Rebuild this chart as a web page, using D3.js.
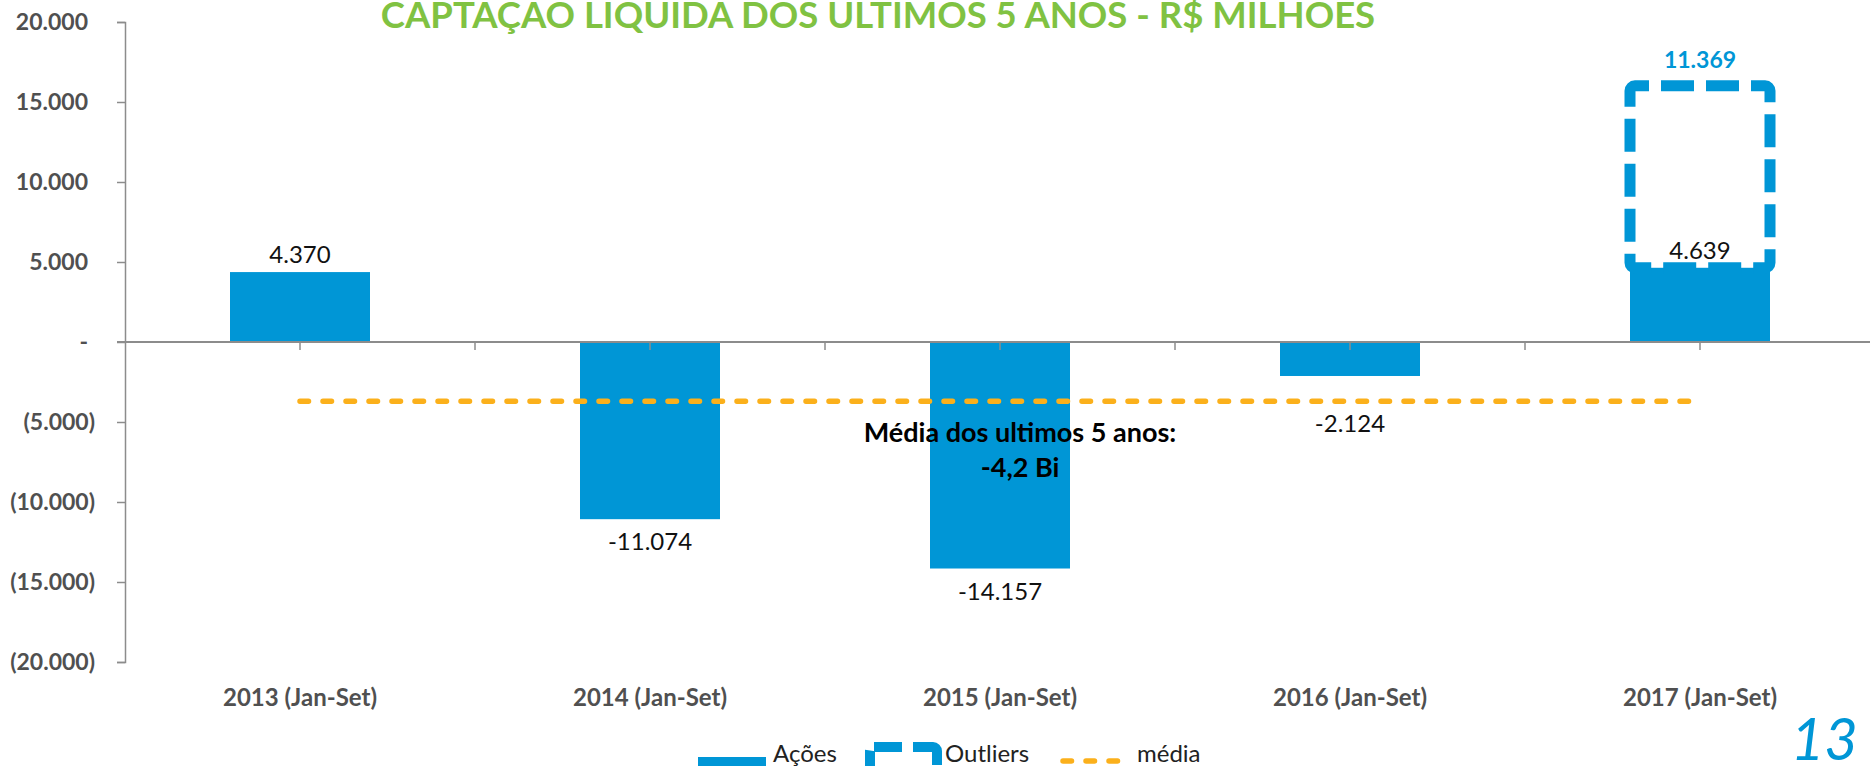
<!DOCTYPE html>
<html>
<head>
<meta charset="utf-8">
<script src="https://cdn.jsdelivr.net/npm/d3@7"></script>
<style>
  body { margin: 0; background: #fff; }
  svg { display: block; font-family: Lato, "Liberation Sans", sans-serif; }
</style>
</head>
<body>
<script>
// data
var categories = ['2013 (Jan-Set)', '2014 (Jan-Set)', '2015 (Jan-Set)', '2016 (Jan-Set)', '2017 (Jan-Set)'];
var acoes = [4370, -11074, -14157, -2124, 4639];
var outliers = [0, 0, 0, 0, 11369];
var media = -3700;
var yTicks = [20000, 15000, 10000, 5000, 0, -5000, -10000, -15000, -20000];
var legendLabels = ['Ações', 'Outliers', 'média'];
var title = 'CAPTAÇAO LIQUIDA DOS ULTIMOS 5 ANOS - R$ MILHOES';
var noteLines = ['Média dos ultimos 5 anos:', '-4,2 Bi'];
var pageNumber = '13';

var width = 1870, height = 766;
var blue = '#0096d6', orange = '#fbb01b', green = '#80c242', gray = '#505050', axisGray = '#8c8c8c';

var br = d3.formatLocale({decimal: ',', thousands: '.', grouping: [3], currency: ['R$', ''], minus: '-'});
var fmt = br.format(',d');
function tickFmt(v) {
    if (v === 0) return '-';
    if (v < 0) return '(' + fmt(-v) + ')';
    return fmt(v);
}

var svg = d3.select('body').append('svg')
    .attr('width', width)
    .attr('height', height);

var x = d3.scaleBand()
    .domain(categories)
    .range([125, 1875])
    .paddingInner(0.6)
    .paddingOuter(0.3);

var y = d3.scaleLinear()
    .domain([-20000, 20000])
    .range([662, 22]);

function cx(d) { return x(d) + x.bandwidth() / 2; }

// title
svg.append('text')
    .attr('x', 878)
    .attr('y', 28)
    .attr('text-anchor', 'middle')
    .style('font-size', '36.5px')
    .style('font-weight', 'bold')
    .style('fill', green)
    .text(title);

// y axis
var yAxis = svg.append('g')
    .attr('transform', 'translate(125,0)')
    .call(d3.axisLeft(y).tickValues(yTicks).tickFormat(tickFmt).tickSize(8).tickPadding(24));
yAxis.select('.domain').attr('stroke', axisGray).attr('stroke-width', 1.5);
yAxis.selectAll('.tick line').attr('stroke', axisGray).attr('stroke-width', 1.5);
yAxis.selectAll('.tick text')
    .style('font-size', '23px')
    .style('font-weight', 'bold')
    .style('font-family', 'Lato, sans-serif')
    .style('fill', gray)
    .attr('dx', function(d) { return d < 0 ? 2 : -5; });

// bars
svg.append('g').selectAll('rect')
    .data(categories)
    .enter().append('rect')
    .attr('x', function(d) { return x(d); })
    .attr('width', x.bandwidth())
    .attr('y', function(d, i) { return y(Math.max(0, acoes[i])); })
    .attr('height', function(d, i) { return Math.abs(y(acoes[i]) - y(0)); })
    .attr('fill', blue);

// zero line with ticks at centres and between categories
svg.append('line')
    .attr('x1', 117).attr('x2', width)
    .attr('y1', y(0)).attr('y2', y(0))
    .attr('stroke', axisGray).attr('stroke-width', 2);
var xTickPos = [];
categories.forEach(function(d) { xTickPos.push(cx(d)); xTickPos.push(cx(d) + x.step() / 2); });
svg.append('g').selectAll('line')
    .data(xTickPos)
    .enter().append('line')
    .attr('x1', function(d) { return d; }).attr('x2', function(d) { return d; })
    .attr('y1', y(0)).attr('y2', y(0) + 8)
    .attr('stroke', axisGray).attr('stroke-width', 1.5);

// outlier box, stacked on top of the bar
svg.append('g').selectAll('rect')
    .data(categories.filter(function(d, i) { return outliers[i] > 0; }))
    .enter().append('rect')
    .attr('x', function(d) { return x(d); })
    .attr('width', x.bandwidth())
    .attr('y', function(d) { var i = categories.indexOf(d); return y(acoes[i] + outliers[i]); })
    .attr('height', function(d) { var i = categories.indexOf(d); return y(acoes[i]) - y(acoes[i] + outliers[i]); })
    .attr('rx', 5)
    .attr('fill', 'none')
    .attr('stroke', blue)
    .attr('stroke-width', 11)
    .attr('stroke-dasharray', '33 12')
    .attr('stroke-dashoffset', 19);

// mean line
svg.append('line')
    .attr('x1', cx(categories[0])).attr('x2', cx(categories[categories.length - 1]))
    .attr('y1', y(media)).attr('y2', y(media))
    .attr('stroke', orange)
    .attr('stroke-width', 5.5)
    .attr('stroke-linecap', 'round')
    .attr('stroke-dasharray', '8.5 14.5');

// value labels
svg.append('g').selectAll('text')
    .data(categories)
    .enter().append('text')
    .attr('x', function(d) { return cx(d); })
    .attr('y', function(d, i) {
        var v = acoes[i];
        if (v >= 0) return y(v) - 9;
        return Math.max(y(v), y(media)) + 31;
    })
    .attr('text-anchor', 'middle')
    .style('font-size', '24px')
    .style('fill', '#111')
    .text(function(d, i) { return fmt(acoes[i]); });

svg.append('g').selectAll('text')
    .data(categories.filter(function(d, i) { return outliers[i] > 0; }))
    .enter().append('text')
    .attr('x', function(d) { return cx(d); })
    .attr('y', function(d) { var i = categories.indexOf(d); return y(acoes[i] + outliers[i]) - 18; })
    .attr('text-anchor', 'middle')
    .style('font-size', '23px')
    .style('font-weight', 'bold')
    .style('fill', blue)
    .text(function(d) { return fmt(outliers[categories.indexOf(d)]); });

// category labels
svg.append('g').selectAll('text')
    .data(categories)
    .enter().append('text')
    .attr('x', function(d) { return cx(d); })
    .attr('y', 706)
    .attr('text-anchor', 'middle')
    .style('font-size', '24px')
    .style('font-weight', 'bold')
    .style('fill', gray)
    .text(function(d) { return d; });

// note on the mean
svg.append('g').selectAll('text')
    .data(noteLines)
    .enter().append('text')
    .attr('x', cx(categories[2]) + 20)
    .attr('y', function(d, i) { return y(media) + 41 + i * 35; })
    .attr('text-anchor', 'middle')
    .style('font-size', '27px')
    .style('font-weight', 'bold')
    .style('fill', '#000')
    .text(function(d) { return d; });

// legend
var legend = svg.append('g');
legend.append('rect')
    .attr('x', 698).attr('y', 757).attr('width', 68).attr('height', 14)
    .attr('fill', blue);
legend.append('rect')
    .attr('x', 870).attr('y', 747).attr('width', 67).attr('height', 30)
    .attr('rx', 4)
    .attr('fill', 'none')
    .attr('stroke', blue)
    .attr('stroke-width', 10)
    .attr('stroke-dasharray', '40 11')
    .attr('stroke-dashoffset', 12);
legend.append('line')
    .attr('x1', 1063).attr('x2', 1120)
    .attr('y1', 761).attr('y2', 761)
    .attr('stroke', orange)
    .attr('stroke-width', 5.5)
    .attr('stroke-linecap', 'round')
    .attr('stroke-dasharray', '8.5 14.5');
legend.selectAll('text')
    .data(legendLabels)
    .enter().append('text')
    .attr('x', function(d, i) { return [773, 945, 1137][i]; })
    .attr('y', 762)
    .style('font-size', '24px')
    .style('fill', '#222')
    .text(function(d) { return d; });

// page number
svg.append('text')
    .attr('x', 1858)
    .attr('y', 760)
    .attr('text-anchor', 'end')
    .style('font-size', '58px')
    .style('font-style', 'italic')
    .style('fill', blue)
    .text(pageNumber);
</script>
</body>
</html>
